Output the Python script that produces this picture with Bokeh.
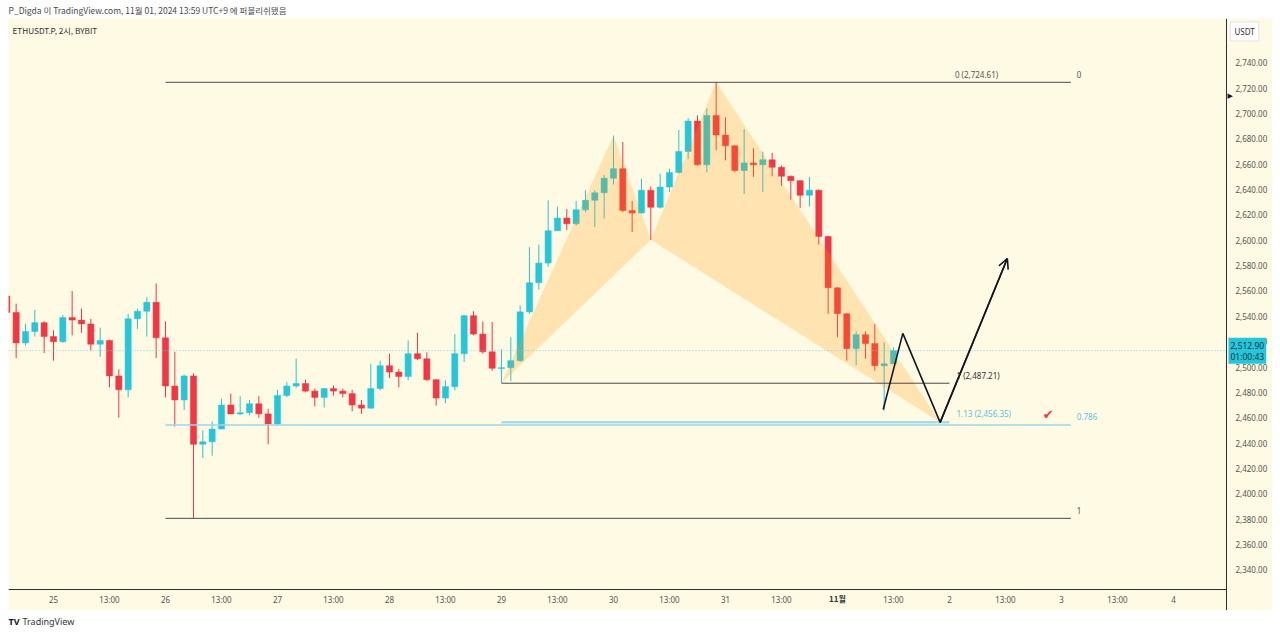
from bokeh.plotting import figure
from bokeh.models import (Range1d, FixedTicker, NumeralTickFormatter, Label, Span,
                          Arrow, OpenHead, ColumnDataSource, Spacer)
from bokeh.layouts import column, row
from bokeh.core.properties import value
from bokeh.embed import file_html
from bokeh.resources import INLINE

# ---------------- data (2h candles, index 0 = 25 Oct 01:00) ----------------
idx = list(range(-5, 91))
opens = [2556, 2543, 2519, 2528, 2535, 2524, 2520, 2539, 2537, 2534,
         2518, 2521, 2493, 2482, 2538, 2544, 2551, 2523, 2485, 2474,
         2493, 2439, 2441, 2451, 2470, 2463, 2464, 2471, 2463, 2455,
         2477.5, 2485, 2487, 2481, 2476, 2483, 2481, 2479, 2470, 2467.5,
         2483, 2501, 2496, 2492.5, 2510.5, 2506.5, 2490, 2475.5, 2484.5, 2510.5,
         2540.5, 2526, 2512, 2499, 2499.5, 2505, 2543.5, 2566.5, 2582, 2607.5,
         2617.5, 2613, 2624, 2631.5, 2637.5, 2649, 2656.5, 2623.5, 2621.5, 2639.5,
         2626, 2642, 2653.5, 2670, 2694, 2659.5, 2698.5, 2683, 2674.5, 2655,
         2661, 2659.5, 2663.5, 2657.5, 2650.5, 2647, 2635.5, 2639.5, 2603, 2562.5,
         2542, 2514.5, 2525.5, 2518.5, 2501, 2502.5]
highs = [2559, 2550, 2534, 2545, 2536, 2529, 2541, 2560, 2546, 2538,
         2531, 2521.5, 2498, 2542, 2546, 2555, 2566, 2536, 2512, 2494,
         2495, 2450, 2457, 2475, 2479, 2477, 2474, 2477, 2467, 2482,
         2488, 2506.5, 2490, 2483, 2483.5, 2485.5, 2483, 2482, 2474, 2502.5,
         2505, 2510.5, 2498.5, 2521, 2527, 2511.5, 2490.5, 2489.5, 2526, 2541,
         2544, 2536, 2535.5, 2514, 2523.5, 2548.5, 2594.5, 2596.5, 2631.5, 2626.5,
         2624.5, 2631, 2639.5, 2639.5, 2651.5, 2682.6, 2677.5, 2631, 2648.5, 2642.5,
         2652.5, 2656.5, 2687, 2696.5, 2698.5, 2704, 2724.61, 2697, 2675, 2687.5,
         2672.5, 2670, 2669, 2659, 2651, 2647.5, 2650, 2640, 2603.5, 2563,
         2542.5, 2528, 2528, 2534, 2519.5, 2515.5]
lows = [2541, 2507, 2517, 2524, 2511, 2505, 2519, 2525, 2527, 2513,
        2508, 2484, 2460, 2476, 2530, 2524, 2507, 2476, 2453, 2466,
        2380.6, 2428, 2430, 2451, 2463, 2462, 2462, 2460, 2439, 2454,
        2476, 2483.5, 2480, 2469, 2468, 2477.5, 2476, 2465, 2463, 2467,
        2481.5, 2491.5, 2484, 2489.5, 2505.5, 2489, 2469.5, 2471.5, 2481.5, 2504,
        2525, 2510.5, 2497, 2487.21, 2489, 2504, 2542, 2561, 2579, 2607.5,
        2608, 2611.5, 2622, 2610.5, 2617, 2644, 2622, 2606.5, 2621, 2600.3,
        2625, 2638, 2652.5, 2664, 2659, 2653.5, 2671, 2663, 2653.5, 2636.5,
        2650, 2638, 2650.5, 2643, 2632, 2625.5, 2626.5, 2596.5, 2542, 2523.5,
        2505, 2501.5, 2506.5, 2497, 2465.5, 2502.5]
closes = [2543, 2519, 2528, 2535, 2524, 2520, 2539, 2537, 2534, 2518,
          2521, 2493, 2482, 2538, 2544, 2551, 2523, 2485, 2474, 2493,
          2439, 2441, 2451, 2470, 2463, 2464, 2471, 2463, 2455, 2477.5,
          2485, 2487, 2481, 2476, 2483, 2481, 2479, 2470, 2467.5, 2483,
          2501, 2496, 2492.5, 2510.5, 2506.5, 2490, 2475.5, 2484.5, 2510.5, 2540.5,
          2526, 2512, 2499, 2499.5, 2505, 2543.5, 2566.5, 2582, 2607.5, 2617.5,
          2613, 2624, 2631.5, 2637.5, 2649, 2656.5, 2623.5, 2621.5, 2639.5, 2626,
          2642, 2653.5, 2670, 2694, 2659.5, 2698.5, 2683, 2674.5, 2655, 2661,
          2659.5, 2663.5, 2657.5, 2650.5, 2647, 2635.5, 2639.5, 2603, 2562.5, 2542,
          2514.5, 2525.5, 2518.5, 2501, 2502.5, 2512.9]

time_tick_idx = list(range(0, 121, 6))
time_tick_labels = ["25", "13:00", "26", "13:00", "27", "13:00", "28", "13:00",
                    "29", "13:00", "30", "13:00", "31", "13:00", "11월", "13:00",
                    "2", "13:00", "3", "13:00", "4"]
price_ticks = list(range(2340, 2741, 20))

# harmonic pattern points X, A, B, C, D
pat_idx = [48, 60, 64, 71, 95]
pat_price = [2487.21, 2682.6, 2600.3, 2724.61, 2456.35]

# projected zig-zag drawn by the author
path_idx = [88.9, 91.0, 95.0, 102.2]
path_price = [2466.5, 2526.5, 2456.35, 2585.6]

fib_hi, fib_lo = 2724.61, 2380.6
fib_786 = fib_hi - 0.786 * (fib_hi - fib_lo)
ext_1, ext_113 = 2487.21, 2456.35
last_price = 2512.90

header_text = "P_Digda 이 TradingView.com, 11월 01, 2024 13:59 UTC+9 에 퍼블리쉬됐음"

# ---------------- styling ----------------
BG = "#fffae3"
UP = "#26c6da"
DN = "#f23645"
SEP = "#2a2e39"
FONT = "Noto Sans"
KFONT = "Noto Sans CJK KR"

# chart window in index / price units (pane ends at X_END / Y_END, scales run to the page edge)
X0, X_END, X_MAX = -4.82, 125.68, 130.61
Y_END, Y_MAX, Y_MIN = 2324.45, 2774.95, 2307.9

# header strip
h = figure(width=1280, height=18, x_range=Range1d(0, 1280), y_range=Range1d(18, 0),
           output_backend="svg", toolbar_location=None, min_border=0,
           x_axis_location=None, y_axis_location=None, outline_line_color=None,
           background_fill_color="white", border_fill_color="white")
h.grid.visible = False
h.text(x=[8], y=[9.5], text=[header_text], text_font=value(KFONT), text_font_size="8.5px",
       text_baseline="middle", text_color="#4a4a4a")

# main chart (frame includes price scale and time scale areas)
p = figure(frame_width=1264, frame_height=592,
           x_range=Range1d(X0, X_MAX), y_range=Range1d(Y_MIN, Y_MAX),
           output_backend="svg", toolbar_location=None, y_axis_location="right",
           min_border_left=0, min_border_top=0, min_border_right=0, min_border_bottom=0,
           background_fill_color=BG, border_fill_color="white", outline_line_color=None)
p.xgrid.visible = False
p.ygrid.visible = False

ya = p.yaxis[0]
ya.ticker = FixedTicker(ticks=price_ticks)
ya.formatter = NumeralTickFormatter(format="0,0.00")
ya.major_label_text_font_size = "8px"
ya.major_label_text_font = FONT
ya.major_label_text_color = "#555555"
ya.axis_line_color = None
ya.major_tick_line_color = None
ya.minor_tick_line_color = None
ya.major_label_standoff = -43

xa = p.xaxis[0]
xa.ticker = FixedTicker(ticks=time_tick_idx)
overrides = {t: lab for t, lab in zip(time_tick_idx, time_tick_labels)}
overrides[84] = ""
xa.major_label_overrides = overrides
xa.major_label_text_font_size = "8px"
xa.major_label_text_font = FONT
xa.major_label_text_color = "#555555"
xa.axis_line_color = None
xa.major_tick_line_color = None
xa.minor_tick_line_color = None
xa.major_label_standoff = -23

# pane separators
p.add_layout(Span(location=X_END, dimension="height", line_color=SEP, line_width=1))
p.segment(x0=[X0], y0=[Y_END], x1=[X_END], y1=[Y_END], line_color=SEP, line_width=1)

# bold month label in the time scale
p.add_layout(Label(x=84, y=12.5, y_units="screen", text="11월", text_align="center",
                   text_baseline="middle", text_font=KFONT, text_font_style="bold",
                   text_font_size="8px", text_color="#333333"))

# candles
cols = [UP if c >= o else DN for o, c in zip(opens, closes)]
tops = [max(o, c) for o, c in zip(opens, closes)]
bots = [min(o, c) if abs(c - o) > 0.6 else max(o, c) - 0.7 for o, c in zip(opens, closes)]
src = ColumnDataSource(dict(x=idx, h=highs, l=lows, t=tops, b=bots, c=cols))
p.segment("x", "h", "x", "l", source=src, line_color="c", line_width=1)
p.vbar(x="x", top="t", bottom="b", width=0.66, source=src, fill_color="c", line_color="c", line_width=0.5)

# harmonic pattern fills (XAB, BCD)
p.patch(pat_idx[0:3], pat_price[0:3], fill_color="#ff9800", fill_alpha=0.22, line_color=None)
p.patch(pat_idx[2:5], pat_price[2:5], fill_color="#ff9800", fill_alpha=0.22, line_color=None)

# last price dotted line
p.segment(x0=[X0], y0=[last_price], x1=[X_END], y1=[last_price], line_color="#7ccfe0",
          line_dash="1 2", line_width=1)

# fib retracement lines
p.segment(x0=[12, 12], y0=[fib_hi, fib_lo], x1=[109, 109], y1=[fib_hi, fib_lo],
          line_color="#4a4a4a", line_width=1)
p.segment(x0=[12], y0=[fib_786], x1=[109], y1=[fib_786], line_color="#9ed6e6", line_width=1.5)
# fib extension lines
p.segment(x0=[48], y0=[ext_1], x1=[96], y1=[ext_1], line_color="#4a4a4a", line_width=1)
p.segment(x0=[48], y0=[ext_113], x1=[96], y1=[ext_113], line_color="#a9dcea", line_width=2.5)

# zig-zag projection
p.line(path_idx, path_price, line_color="#131722", line_width=1.6)
p.add_layout(Arrow(end=OpenHead(size=10, line_width=1.6, line_color="#131722"),
                   x_start=path_idx[-2], y_start=path_price[-2],
                   x_end=path_idx[-1], y_end=path_price[-1],
                   line_color="#131722", line_width=1.6))

def lab(x, y, text, color="#555555", size="8px", align="left", font=FONT, **kw):
    p.add_layout(Label(x=x, y=y, text=text, text_color=color, text_font_size=size,
                       text_align=align, text_baseline="middle", text_font=font, **kw))

lab(98.9, fib_hi, "0 (2,724.61)", align="center", y_offset=8)
lab(109, fib_hi, "0", x_offset=6, y_offset=8)
lab(109, fib_lo, "1", x_offset=6, y_offset=8)
lab(109, fib_786, "0.786", color="#5cc3de", x_offset=6, y_offset=9)
lab(96, ext_1, "1 (2,487.21)", color="#333333", x_offset=7, y_offset=8)
lab(96, ext_113, "1.13 (2,456.35)", color="#5cc3de", x_offset=7, y_offset=9)
lab(106, ext_113, "✔", color=DN, size="13px", font="DejaVu Sans", y_offset=8)

# symbol title
p.add_layout(Label(x=4, y=581, x_units="screen", y_units="screen",
                   text="ETHUSDT.P, 2시, BYBIT", text_font=KFONT,
                   text_font_size="8.2px", text_color="#333333", text_baseline="middle"))
# price-scale decorations
p.add_layout(Label(x=1222, y=579, x_units="screen", y_units="screen", text="USDT",
                   text_font=FONT, text_font_size="8px", text_color="#333333",
                   text_baseline="middle", background_fill_color="white",
                   border_line_color="#e3e3e3", padding=4))
p.add_layout(Label(x=1220, y=last_price, x_units="screen", text="2,512.90\n01:00:43",
                   text_font=FONT, text_font_size="8.5px", text_color="#10334a",
                   text_baseline="middle", background_fill_color=UP, padding=2,
                   text_line_height=1.0))
p.add_layout(Label(x=1219, y=2714, x_units="screen", text="▶", text_font="DejaVu Sans",
                   text_font_size="7px", text_color="#131722", text_baseline="middle"))

# footer strip with logo
f = figure(width=1280, height=24, x_range=Range1d(0, 1280), y_range=Range1d(24, 0),
           output_backend="svg", toolbar_location=None, min_border=0,
           x_axis_location=None, y_axis_location=None, outline_line_color=None,
           background_fill_color="white", border_fill_color="white")
f.grid.visible = False
f.text(x=[8], y=[11], text=["TV"], text_font=value(FONT), text_font_style="bold",
       text_font_size="9px", text_baseline="middle", text_color="#131722")
f.text(x=[22], y=[11], text=["TradingView"], text_font=value(FONT),
       text_font_size="9px", text_baseline="middle", text_color="#333333")

layout = column(h, row(Spacer(width=8, height=592), p), f)

open("out.html", "w").write(file_html(layout, INLINE))
